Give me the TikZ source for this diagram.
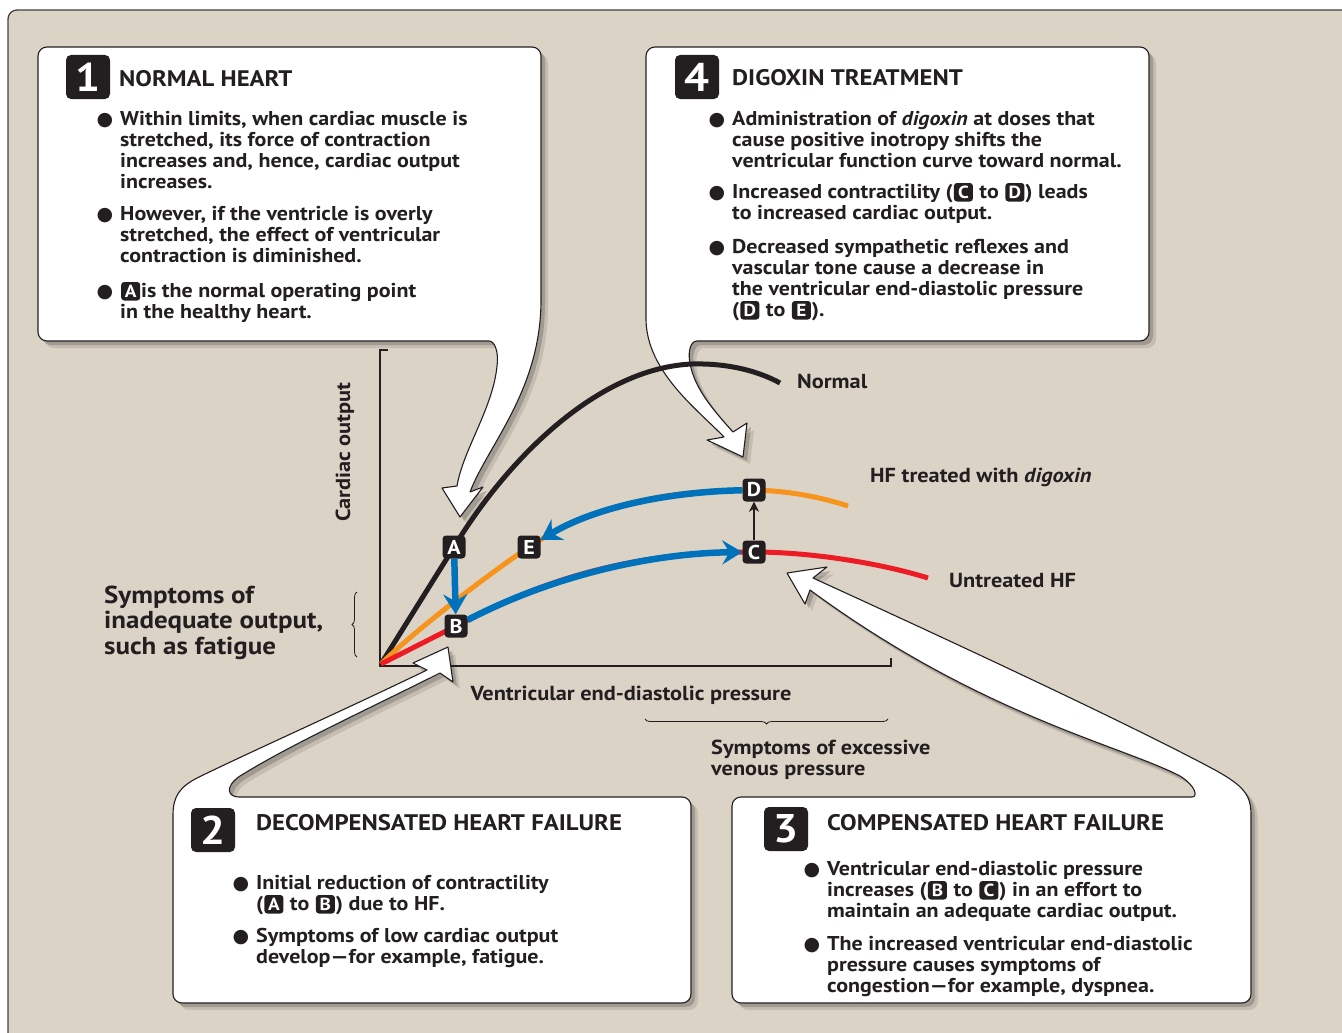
\documentclass[tikz,border=0pt]{standalone}
\usepackage{fontspec}
\setmainfont[FakeStretch=1.1]{PT Sans}
\newfontfamily\symfont{DejaVu Sans}
\usetikzlibrary{shadows, arrows.meta, decorations.pathreplacing, positioning}
\definecolor{ink}{HTML}{231F20}
\definecolor{paper}{HTML}{DCD3C7}
\definecolor{hfblue}{HTML}{0072BC}
\definecolor{hforange}{HTML}{F7941D}
\definecolor{hfred}{HTML}{ED1C24}
\tikzset{inlb/.style={fill=ink, text=white, rounded corners=3pt, inner sep=2.5pt,
    text height=12.5pt, text depth=1pt, minimum width=19pt,
    font=\fontsize{17.5}{17.5}\selectfont\bfseries}}
\newcommand\ltr[1]{\hspace{1pt}\tikz[baseline=(ilb.base)]\node[inlb] (ilb) {#1};\hspace{1pt}}
\newcommand\itm{\llap{{\symfont\fontsize{19}{19}\selectfont ●}\hspace{7pt}}}

\begin{document}
\begin{tikzpicture}[x=1pt, y=-1pt,
    callout/.style={fill=white, draw=ink, line width=1.1pt, line join=round,
      drop shadow={shadow xshift=7pt, shadow yshift=-7pt, opacity=.12, fill=ink},
      drop shadow={shadow xshift=4pt, shadow yshift=-4pt, opacity=.22, fill=ink}},
    badge/.style={fill=ink, rounded corners=5pt, minimum size=44pt, inner sep=0pt,
      text=white, font=\fontsize{40}{40}\selectfont\bfseries},
    ttl/.style={anchor=base west, inner sep=0pt, text=ink, font=\fontsize{22.5}{26}\selectfont\bfseries},
    para/.style={anchor=base west, inner sep=0pt, align=left, text=ink,
      font=\fontsize{20}{21}\selectfont\bfseries},
    lbl/.style={anchor=base west, inner sep=0pt, align=left, text=ink,
      font=\fontsize{20.3}{21}\selectfont\bfseries},
    pnt/.style={fill=ink, rounded corners=3.5pt, minimum size=23pt, inner sep=0pt,
      text=white, font=\fontsize{20}{20}\selectfont\bfseries},
    curve/.style={line width=5pt},
    move/.style={hfblue, line width=6.5pt, -{Stealth[length=20pt, width=24pt, inset=7pt]}},
    brc/.style={ink, line width=.8pt, decorate, decoration={brace, amplitude=5pt}}]
    \useasboundingbox (0,0) rectangle (1342,1033);
    \clip (0,0) rectangle (1342,1033);
    \fill[white] (0,0) rectangle (1342,1033);
    \draw[fill=paper, draw=ink!85, line width=1.3pt, rounded corners=9pt] (8,10) rectangle (1370,1060);

    \draw[ink, line width=1.4pt] (388,350) -- (380,350) -- (380,666) -- (891,666) -- (891,658);

    \draw[callout] (541,200) [rounded corners=9pt] -- (541,47) -- (38,47) -- (38,341) -- (480,341)
      [sharp corners] .. controls (494,341) and (499,350) .. (497,366)
      .. controls (493,408) and (463,450) .. (457,486) -- (442,488) -- (460,517) -- (483,487) -- (470,492)
      .. controls (488,445) and (541,390) .. (541,300) -- cycle;
    \draw[callout] (1149,200) [rounded corners=9pt] -- (1149,341) -- (706,341)
      [sharp corners] .. controls (690,341) and (687,353) .. (691,368)
      .. controls (697,392) and (716,413) .. (733,432) -- (747,423) -- (743,457) -- (707,440) -- (724,437)
      .. controls (698,410) and (647,372) .. (646,320) [rounded corners=9pt] -- (646,47) -- (1149,47) -- cycle;
    \draw[callout] (173,900) [rounded corners=9pt] -- (173,1003) -- (691,1003) -- (691,797) -- (248,797)
      [sharp corners] .. controls (228,797) and (224,787) .. (240,776)
      .. controls (290,745) and (360,713) .. (440,673) -- (453,682) -- (448,647) -- (413,663) -- (427,670)
      .. controls (340,712) and (250,752) .. (197,778) .. controls (180,787) and (173,796) .. (173,815) -- cycle;
    \draw[callout] (732,900) [rounded corners=9pt] -- (732,797) -- (1183,797)
      [sharp corners] .. controls (1198,797) and (1196,786) .. (1180,776)
      .. controls (1120,745) and (980,715) .. (810,590) -- (805,604) -- (787,573) -- (827,567) -- (813,578)
      .. controls (1010,668) and (1150,735) .. (1215,770) .. controls (1244,786) and (1251,795) .. (1251,815)
      [rounded corners=9pt] -- (1251,1003) -- (732,1003) -- cycle;

    \coordinate (O) at (381,664);
    \coordinate (pA) at (454,547);
    \coordinate (pB) at (456,626);
    \coordinate (pC) at (754,552);
    \coordinate (pD) at (754,490);
    \coordinate (pE) at (529,547);

    \draw[curve, ink] (O) -- (pA) .. controls (510,455) and (600,368) .. (692,364)
      .. controls (730,363) and (760,372) .. (780,383);
    \draw[curve, hforange] (O) .. controls (410,635) and (480,580) .. (pE)
      .. controls (600,500) and (680,490) .. (pD) .. controls (790,491) and (820,497) .. (848,506);
    \draw[curve, hfred] (O) -- (pB) .. controls (560,570) and (650,552) .. (pC)
      .. controls (810,552) and (880,563) .. (928,578);

    \node[pnt] (A) at (pA) {A};
    \node[pnt] (B) at (pB) {B};
    \node[pnt] (C) at (pC) {C};
    \node[pnt] (D) at (pD) {D};
    \node[pnt] (E) at (pE) {E};

    \draw[move] (A) -- (B);
    \draw[move] (B) .. controls (560,572) and (660,553) .. (C);
    \draw[move] (D) .. controls (660,492) and (590,510) .. (E);
    \draw[ink, line width=2.5pt, -{Stealth[length=10pt, width=10pt, inset=3pt]}] (C) -- (D);

    \node[lbl] (lnorm) at (797,388) {Normal};
    \node[lbl] (ldig) at (870,482) {HF treated with \textit{digoxin}};
    \node[lbl] (lunt) at (949,587) {Untreated HF};
    \node[lbl, anchor=center, rotate=90] (ly) at (345,452) {Cardiac output};
    \node[lbl, anchor=base] (lx) at (631,700) {Ventricular end-diastolic pressure};
    \node[lbl] (lven) at (711,775) {Symptoms of excessive\\venous pressure};
    \node[lbl, font=\fontsize{24.5}{25.5}\selectfont\bfseries] (lfat) at (104,654)
      {Symptoms of\\inadequate output,\\such as fatigue};
    \draw[brc] (888,719) -- (645,719);
    \draw[brc] (357,657) -- (357,592);

    \node[badge] (n1) at (88,77) {1};
    \node[ttl] (t1) at (119,86) {NORMAL HEART};
    \node[para] (p11) at (120,188) {\itm Within limits, when cardiac muscle is\\stretched, its force of contraction\\increases and, hence, cardiac output\\increases.};
    \node[para] (p12) at (120,262) {\itm However, if the ventricle is overly\\stretched, the effect of ventricular\\contraction is diminished.};
    \node[para] (p13) at (120,318) {\itm\ltr{A}is the normal operating point\\in the healthy heart.};

    \node[badge] (n4) at (697,77) {4};
    \node[ttl] (t4) at (732,85) {DIGOXIN TREATMENT};
    \node[para] (p41) at (732,167) {\itm Administration of \textit{digoxin} at doses that\\cause positive inotropy shifts the\\ventricular function curve toward normal.};
    \node[para] (p42) at (732,219) {\itm Increased contractility (\ltr{C} to \ltr{D}) leads\\to increased cardiac output.};
    \node[para] (p43) at (732,316) {\itm Decreased sympathetic reflexes and\\vascular tone cause a decrease in\\the ventricular end-diastolic pressure\\(\ltr{D} to \ltr{E}).};

    \node[badge] (n2) at (213,830) {2};
    \node[ttl] (t2) at (256,830) {DECOMPENSATED HEART FAILURE};
    \node[para] (p21) at (256,910) {\itm Initial reduction of contractility\\(\ltr{A} to \ltr{B}) due to HF.};
    \node[para] (p22) at (256,963) {\itm Symptoms of low cardiac output\\develop—for example, fatigue.};

    \node[badge] (n3) at (786,829) {3};
    \node[ttl] (t3) at (827,830) {COMPENSATED HEART FAILURE};
    \node[para] (p31) at (827,917) {\itm Ventricular end-diastolic pressure\\increases (\ltr{B} to \ltr{C}) in an effort to\\maintain an adequate cardiac output.};
    \node[para] (p32) at (827,992) {\itm The increased ventricular end-diastolic\\pressure causes symptoms of\\congestion—for example, dyspnea.};
\end{tikzpicture}
\end{document}
